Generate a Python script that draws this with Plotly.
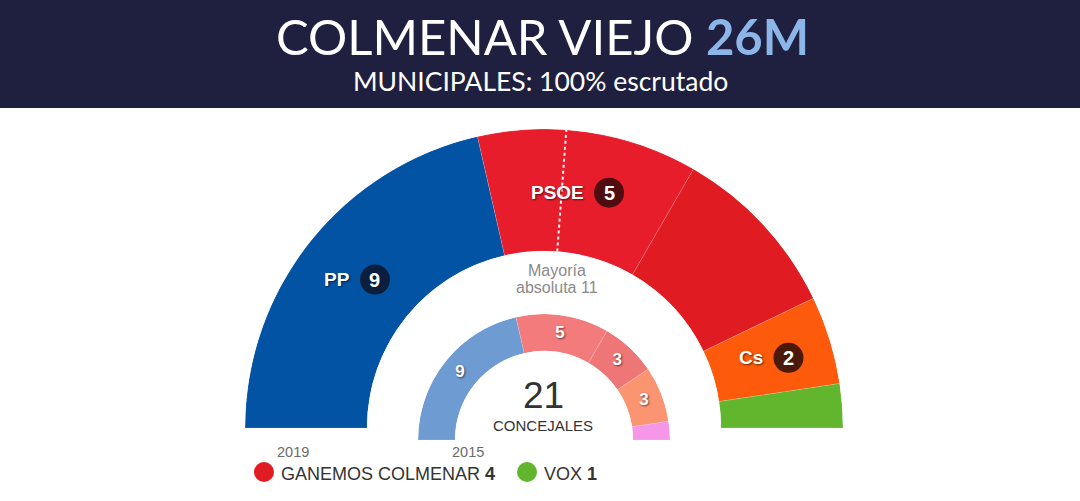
import math
import plotly.graph_objects as go

W, H = 1080, 501

# ---------------- data ----------------
parties_2019 = ["PP", "PSOE", "GANEMOS COLMENAR", "Cs", "VOX"]
seats_2019 = [9, 5, 4, 2, 1]
colors_2019 = ["#0353A4", "#E71D2B", "#E01B22", "#FD5A0B", "#62B62D"]

parties_2015 = ["PP", "PSOE", "GANEMOS", "Cs", "Otros"]
seats_2015 = [9, 5, 3, 3, 1]
colors_2015 = ["#6E9BD1", "#F37B7B", "#EF7676", "#FA9471", "#F597E6"]

ring_labels = ["PP", "PSOE", "Cs"]
badge_colors = {"PP": "#0B1E3D", "PSOE": "#4F0D10", "Cs": "#4B190A"}
legend_parties = ["GANEMOS COLMENAR", "VOX"]

TOTAL = sum(seats_2019)
MAJORITY = TOTAL // 2 + 1

# ---------------- geometry ----------------
OUT_CX, OUT_CY, OUT_R, OUT_HOLE = 544, 428, 299, 177 / 299
IN_CX, IN_CY, IN_R, IN_HOLE = 544, 440, 126, 89 / 126

FONT = "Liberation Sans, Arial, sans-serif"


def px(x):
    return x / W


def py(y):
    return 1 - y / H


def arcs(seats):
    tot = sum(seats)
    start, mids, widths = 0.0, [], []
    for s in seats:
        w = s * 180.0 / tot
        mids.append(start + w / 2)
        widths.append(w)
        start += w
    return mids, widths


def note(x, y, text, size, color, family=FONT, xanchor="center", **kw):
    d = dict(x=px(x), y=py(y), xref="paper", yref="paper", showarrow=False,
             text=text, xanchor=xanchor, yanchor="middle",
             font=dict(family=family, size=size, color=color, **kw))
    return d


mids19, widths19 = arcs(seats_2019)
mids15, widths15 = arcs(seats_2015)

fig = go.Figure()

# outer ring 2019
fig.add_trace(go.Barpolar(
    r=[1] * len(seats_2019), theta=mids19, width=widths19, base=0,
    marker=dict(color=colors_2019, line=dict(color="rgba(255,255,255,0.25)", width=0.6)),
    text=parties_2019, hoverinfo="text", subplot="polar", showlegend=False,
))
# majority line
fig.add_trace(go.Scatterpolar(
    r=[0, 1], theta=[MAJORITY * 180.0 / TOTAL] * 2, mode="lines",
    line=dict(color="white", width=2, dash="dot"), hoverinfo="skip",
    subplot="polar", showlegend=False,
))

# inner ring 2015
fig.add_trace(go.Barpolar(
    r=[1] * len(seats_2015), theta=mids15, width=widths15, base=0,
    marker=dict(color=colors_2015, line=dict(color="rgba(255,255,255,0.25)", width=0.6)),
    text=parties_2015, hoverinfo="text", subplot="polar2", showlegend=False,
))
fig.add_trace(go.Scatterpolar(
    r=[0.5] * 4, theta=mids15[:4], mode="text",
    text=["<b>%d</b>" % s for s in seats_2015[:4]],
    textfont=dict(color="white", size=17, family=FONT, shadow="1px 1px 2px rgba(0,0,0,0.55)"),
    hoverinfo="skip", subplot="polar2", showlegend=False,
))

polar_common = dict(
    sector=[0, 180], bgcolor="rgba(0,0,0,0)",
    radialaxis=dict(visible=False, range=[0, 1]),
    angularaxis=dict(visible=False, rotation=180, direction="clockwise"),
)

fig.update_layout(
    width=W, height=H, margin=dict(l=0, r=0, t=0, b=0),
    paper_bgcolor="white", plot_bgcolor="white",
    polar=dict(domain=dict(x=[px(OUT_CX - OUT_R), px(OUT_CX + OUT_R)],
                           y=[py(OUT_CY), py(OUT_CY - OUT_R)]),
               hole=OUT_HOLE, **polar_common),
    polar2=dict(domain=dict(x=[px(IN_CX - IN_R), px(IN_CX + IN_R)],
                            y=[py(IN_CY), py(IN_CY - IN_R)]),
                hole=IN_HOLE, **polar_common),
)

shapes = []
annotations = []

# header band
shapes.append(dict(type="rect", xref="paper", yref="paper", x0=0, x1=1, y0=py(108), y1=1,
                   fillcolor="#1F1F3F", line=dict(width=0), layer="below"))
annotations.append(note(542, 36, "COLMENAR VIEJO <b><span style='color:#8CB6E7'>26M</span></b>",
                        49, "white", family="Lato"))
annotations.append(note(540, 81, "MUNICIPALES: 100% escrutado", 26.5, "white", family="Lato"))

# ring labels with badges
mid_r = OUT_R * (1 + OUT_HOLE) / 2
label_font_size = 19
for name in ring_labels:
    i = parties_2019.index(name)
    ang = math.radians(180 - mids19[i])
    mx = OUT_CX + mid_r * math.cos(ang)
    my = OUT_CY - mid_r * math.sin(ang)
    text_w = len(name) * 0.66 * label_font_size
    bx = mx + (9 + text_w) / 2
    shapes.append(dict(type="circle", xref="paper", yref="paper",
                       xsizemode="pixel", ysizemode="pixel",
                       xanchor=px(bx), yanchor=py(my), x0=-15, x1=15, y0=-15, y1=15,
                       fillcolor=badge_colors[name], line=dict(width=0)))
    annotations.append(note(bx, my, "<b>%d</b>" % seats_2019[i], 20, "white"))
    annotations.append(note(bx - 23, my, "<b>%s</b>" % name, label_font_size, "white",
                            xanchor="right", shadow="1px 1px 2px rgba(0,0,0,0.6)"))

# majority text
annotations.append(note(557, 270, "Mayoría", 16, "#8A8A8A"))
annotations.append(note(557, 287, "absoluta %d" % MAJORITY, 16, "#8A8A8A"))

# center total
annotations.append(note(543, 395, str(TOTAL), 37, "#333333"))
annotations.append(note(543, 425, "CONCEJALES", 15, "#333333"))

# year labels
annotations.append(note(293, 452, "2019", 14.5, "#6B6B6B"))
annotations.append(note(468, 452, "2015", 14.5, "#6B6B6B"))

# legend
legend_pos = {"GANEMOS COLMENAR": 264, "VOX": 527}
for name in legend_parties:
    i = parties_2019.index(name)
    lx = legend_pos[name]
    shapes.append(dict(type="circle", xref="paper", yref="paper",
                       xsizemode="pixel", ysizemode="pixel",
                       xanchor=px(lx), yanchor=py(472), x0=-10, x1=10, y0=-10, y1=10,
                       fillcolor=colors_2019[i], line=dict(width=0)))
    annotations.append(note(lx + 15, 474, "%s <b>%d</b>" % (name, seats_2019[i]), 18,
                            "#333333", xanchor="left"))

fig.update_layout(shapes=shapes, annotations=annotations)
fig.write_html("out.html", config={"displayModeBar": False},
               post_script="document.body.style.margin='0';document.body.style.overflow='hidden';")
